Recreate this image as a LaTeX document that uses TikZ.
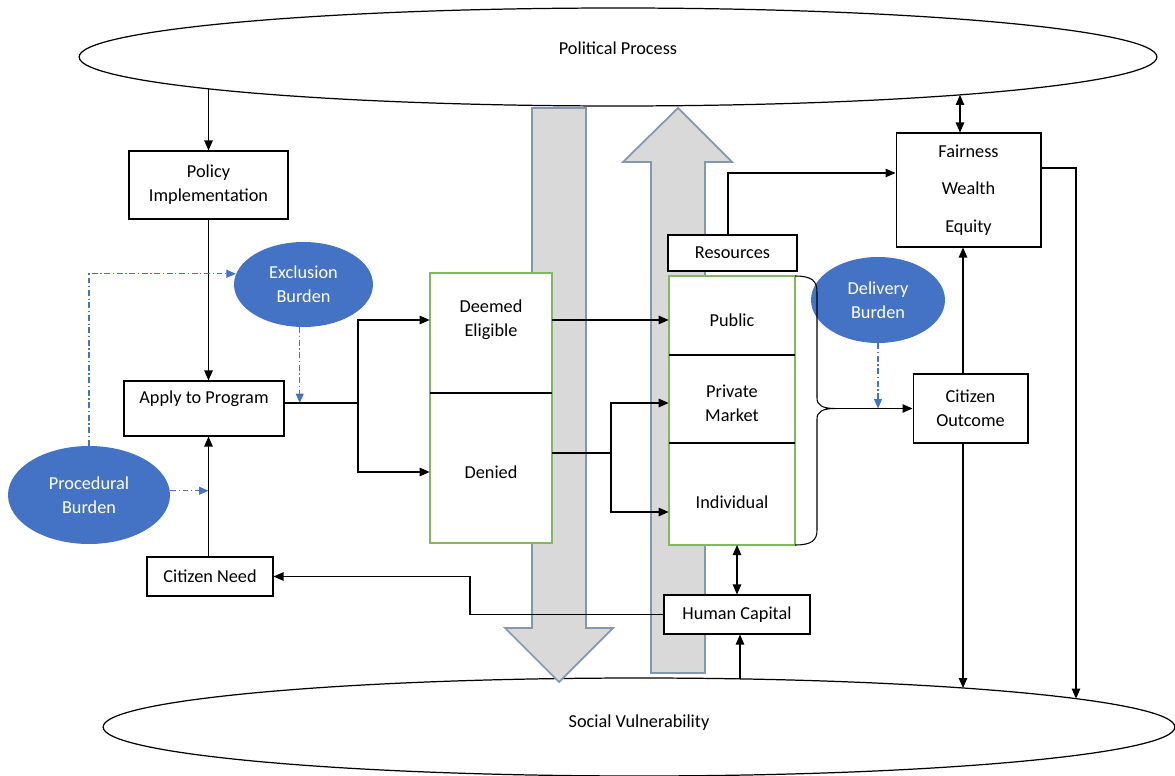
\documentclass[tikz,border=0pt]{standalone}
\usepackage{fontspec}
\setmainfont{Carlito}
\usetikzlibrary{arrows.meta,positioning,shapes.geometric}

\definecolor{burdenblue}{RGB}{68,114,196}
\definecolor{gridgreen}{RGB}{130,185,95}
\definecolor{flowgray}{RGB}{217,217,217}
\definecolor{flowedge}{RGB}{132,151,176}

\begin{document}
\begin{tikzpicture}[x=0.02cm, y=-0.02cm,
  font=\fontsize{10.4}{13.6}\selectfont,
  box/.style={draw, fill=white, align=center, inner sep=0pt, line width=0.6pt},
  burden/.style={ellipse, fill=burdenblue, text=white, align=center, inner sep=0pt},
  sphere/.style={ellipse, draw, inner sep=0pt, line width=0.7pt},
  cell/.style={align=center, inner sep=0pt},
  arr/.style={-{Triangle[length=2mm, width=1.7mm]}, line width=0.6pt},
  darr/.style={{Triangle[length=2mm, width=1.7mm]}-{Triangle[length=2mm, width=1.7mm]}, line width=0.6pt},
  dd/.style={-{Triangle[length=1.9mm, width=1.6mm]}, burdenblue, line width=0.6pt,
    dash pattern=on 3.4pt off 1.5pt on 0.7pt off 1.5pt},
  split/.style={line width=1.1pt},
  flow/.style={fill=flowgray, draw=flowedge, line width=1pt}
]
  \useasboundingbox (0,0) rectangle (1175,776);

  % spheres
  \node[sphere, minimum width=21.56cm, minimum height=1.96cm, text depth=10pt] (pol) at (618,57) {Political Process};
  \node[sphere, minimum width=21.44cm, minimum height=1.96cm, text depth=7pt] (soc) at (639,727) {Social Vulnerability};
  % points on the sphere rims
  \coordinate (polA) at (208.5,88.9);
  \coordinate (polB) at (960,94.9);
  \coordinate (socA) at (740,678.9);
  \coordinate (socB) at (963,688);
  \coordinate (socC) at (1076,698.6);

  % flows down and up
  \draw[flow] (532,108) -- (586,108) -- (586,628) -- (613,628) -- (559,682) -- (505,628) -- (532,628) -- cycle;
  \draw[flow] (651,673) -- (651,162) -- (623,162) -- (678,108) -- (732,162) -- (705,162) -- (705,673) -- cycle;

  % split boxes
  \filldraw[fill=white, draw=gridgreen, line width=0.6pt] (430,273) rectangle (552,543);
  \draw[line width=0.6pt] (430,393) -- (552,393);
  \filldraw[fill=white, draw=gridgreen, line width=0.6pt] (669,276) rectangle (795,545);
  \draw[line width=0.6pt] (669,355) -- (795,355);
  \draw[line width=0.6pt] (669,443) -- (795,443);

  \node[box, minimum width=3.18cm, minimum height=1.36cm] (polimp) at (208.5,185) {Policy\\Implementation};
  \node[box, minimum width=3.2cm, text height=0.44cm, text depth=0.66cm] (apply) at (204,408.5) {Apply to Program};
  \node[box, minimum width=2.52cm, minimum height=0.78cm] (need) at (210,576.5) {Citizen Need};
  \node[burden, minimum width=2.78cm, minimum height=1.7cm] (excl) at (303.5,284.5) {Exclusion\\Burden};
  \node[burden, minimum width=3.24cm, minimum height=1.96cm] (proc) at (89,495) {Procedural\\Burden};
  \node[burden, minimum width=2.68cm, minimum height=1.72cm] (delv) at (878,300) {Delivery\\Burden};

  \node[cell, minimum width=2.44cm] (elig) at (491,320) {Deemed\\Eligible};
  \node[cell, minimum width=2.44cm] (deny) at (491,472) {Denied};
  \node[cell, minimum width=2.52cm] (pub) at (732,320) {Public};
  \node[cell, minimum width=2.52cm] (priv) at (732,403) {Private\\Market};
  \node[cell, minimum width=2.52cm] (indiv) at (732,502) {Individual};

  \node[box, minimum width=2.58cm, minimum height=0.72cm] (res) at (732.5,253) {Resources};
  \node[box, minimum width=2.9cm, minimum height=2.28cm] (fwe) at (968.5,190) {Fairness\\[7.9pt]Wealth\\[7.9pt]Equity};
  \node[box, minimum width=2.3cm, minimum height=1.38cm] (outc) at (970.5,408.5) {Citizen\\Outcome};
  \node[box, minimum width=2.92cm, minimum height=0.78cm] (hcap) at (737,614.5) {Human Capital};

  \coordinate (aj) at (358,403);
  \coordinate (dj) at (611,453);
  \coordinate (bt) at (835,408.5);
  \coordinate (rbot) at (737,545);
  \coordinate (hk) at (470,600);

  % left column
  \draw[arr] (polA) -- (polimp.north);
  \draw[arr] (polimp.south) -- (polimp.south |- apply.north);
  \draw[arr] (polimp.south |- need.north) -- (polimp.south |- apply.south);
  \draw[dd] (proc.north) |- (excl.171);
  \draw[dd] (proc.3.5) -- (proc.3.5 -| polimp.south);
  \draw[dd] (excl.265) -- (excl.265 |- apply.base east);

  % eligibility
  \draw[split] (apply.base east) -- (aj);
  \draw[arr] (aj) |- (elig.west);
  \draw[arr] (aj) |- (deny.west);
  \draw[arr] (elig.east) -- (pub.west);
  \draw[split] (deny.east |- dj) -- (dj);
  \draw[arr] (dj) |- (priv.west);
  \draw[arr] (dj) |- ([yshift=-0.2cm]indiv.west);

  % outcomes
  \draw[arr] ([xshift=-0.09cm]res.north) |- ([yshift=0.34cm]fwe.west);
  \draw[darr] (polB) -- (polB |- fwe.north);
  \draw[arr] ([yshift=0.44cm]fwe.east) -| (socC);
  \draw[line width=0.6pt] (795,276) .. controls (812,276) and (817,281) .. (817,292) -- (817,398)
    .. controls (817,405) and (822,408.5) .. (bt)
    .. controls (822,408.5) and (817,412) .. (817,419) -- (817,530)
    .. controls (817,540) and (812,545) .. (795,545);
  \draw[arr] (bt) -- (outc.west);
  \draw[dd] (delv.south) -- (delv.south |- bt);
  \draw[arr] (socB |- outc.north) -- (socB |- fwe.south);
  \draw[arr] (socB |- outc.south) -- (socB);

  % human capital
  \draw[darr] (rbot) -- (hcap.north);
  \draw[arr] (socA) -- (socA |- hcap.south);
  \draw[arr] (hcap.west) -| (hk) |- (need.east);
\end{tikzpicture}
\end{document}
